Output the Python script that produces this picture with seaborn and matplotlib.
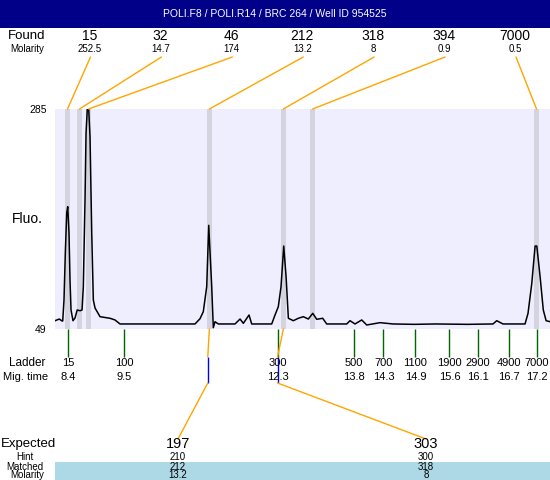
import numpy as np
import pandas as pd
import seaborn as sns
import matplotlib.pyplot as plt
from matplotlib.patches import Rectangle

# ---------------- data ----------------
title = 'POLI.F8 / POLI.R14 / BRC 264 / Well ID 954525'

# electropherogram trace (migration time in min, fluorescence)
trace_time = [8.150, 8.231, 8.282, 8.295, 8.319, 8.344, 8.370, 8.389, 8.413, 8.432,
              8.451, 8.488, 8.526, 8.567, 8.620, 8.658, 8.682, 8.714, 8.733, 8.757,
              8.783, 8.808, 8.840, 8.870, 8.902, 8.996, 9.183, 9.277, 9.371, 10.780,
              10.874, 10.936, 11.000, 11.038, 11.094, 11.124, 11.156, 11.218, 11.532, 11.626,
              11.688, 11.795, 11.845, 12.221, 12.283, 12.345, 12.396, 12.447, 12.491, 12.534,
              12.627, 12.721, 12.815, 12.909, 12.992, 13.067, 13.179, 13.254, 13.630, 13.692,
              13.786, 13.912, 14.006, 14.256, 14.500, 14.900, 15.300, 15.900, 16.378, 16.448,
              16.566, 16.980, 17.036, 17.107, 17.169, 17.201, 17.263, 17.323, 17.376, 17.451]
trace_fluo = [57.9, 59.7, 57.6, 57.6, 80.1, 130.5, 173.4, 180.2, 152.0, 101.6,
              69.4, 57.9, 60.8, 69.4, 68.6, 69.4, 94.4, 187.4, 259.2, 285.0,
              285.0, 255.0, 152.0, 80.1, 71.5, 62.2, 60.5, 58.7, 54.4, 54.4,
              60.0, 67.6, 94.4, 160.2, 94.4, 50.4, 56.8, 54.4, 54.4, 59.7,
              55.1, 64.0, 54.4, 54.4, 64.0, 72.9, 94.4, 138.0, 105.1, 60.5,
              57.9, 60.5, 62.2, 59.7, 65.8, 59.4, 60.5, 54.4, 54.4, 57.9,
              54.4, 58.7, 53.3, 55.8, 54.4, 54.0, 54.4, 54.0, 54.4, 57.9,
              54.4, 54.4, 65.8, 98.0, 138.0, 138.0, 105.1, 69.4, 57.9, 56.8]

# found peaks
found_size = ['15', '32', '46', '212', '318', '394', '7000']
found_molarity = ['252.5', '14.7', '174', '13.2', '8', '0.9', '0.5']
found_time = [8.385, 8.61, 8.78, 11.05, 12.44, 12.99, 17.196]

# ladder
ladder_size = ['15', '100', '300', '500', '700', '1100', '1900', '2900', '4900', '7000']
ladder_time = [8.40, 9.45, 12.33, 13.76, 14.32, 14.92, 15.56, 16.09, 16.67, 17.20]
ladder_label = ['8.4', '9.5', '12.3', '13.8', '14.3', '14.9', '15.6', '16.1', '16.7', '17.2']

# expected fragments
expected_size = ['197', '303']
expected_time = [11.02, 12.33]
hint_size = ['210', '300']
matched_size = ['212', '318']
matched_time = [11.05, 12.44]
matched_molarity = ['13.2', '8']

y_min, y_max = 49, 285

# ---------------- layout ----------------
W, H = 550, 480
left, right, top, bottom = 55, 550, 109, 329
found_x = np.linspace(89.5, 515, len(found_size))
expected_x = [178, 426]

def fx(x):
    return x / W

def fy(y):
    return 1 - y / H

def ay(y):
    # pixel row -> axes fraction of the main plot
    return (bottom - y) / (bottom - top)

plt.rcParams['font.family'] = ['Liberation Sans', 'DejaVu Sans']

fig = plt.figure(figsize=(W / 100, H / 100), dpi=100)
ax = fig.add_axes([fx(left), fy(bottom), (right - left) / W, (bottom - top) / H])
ax.set_facecolor('#eeeeff')

# peak bands
band_w = 0.094
for t in found_time:
    ax.axvspan(t - band_w / 2, t + band_w / 2, color='#d4d4e0', lw=0, zorder=1)

trace = pd.DataFrame({'time': trace_time, 'fluo': trace_fluo})
sns.lineplot(data=trace, x='time', y='fluo', ax=ax, color='black', lw=1.1, zorder=3)

ax.set_xlim(8.150, 17.449)
ax.set_ylim(y_min, y_max)
ax.set_xticks([])
ax.set_yticks([y_min, y_max])
ax.set_yticklabels([str(y_min), str(y_max)], fontsize=7.5)
ax.tick_params(axis='y', length=0, pad=6)
ax.set_xlabel('')
ax.set_ylabel('')
for s in ax.spines.values():
    s.set_visible(False)
ax.text((27 - left) / (right - left), 0.5, 'Fluo.', transform=ax.transAxes,
        ha='center', va='center', fontsize=10)

xt = ax.get_xaxis_transform()
line_kw = dict(arrowstyle='-', lw=1, shrinkA=0, shrinkB=0)

# title bar
fig.add_artist(Rectangle((0, fy(28)), 1, 28 / H, transform=fig.transFigure,
                         color='#000088', lw=0))
fig.text(0.5, fy(14), title, color='white', ha='center', va='center', fontsize=7.5)

# found row
fig.text(fx(26.5), fy(36), 'Found', ha='center', va='center', fontsize=9.5)
fig.text(fx(27), fy(49), 'Molarity', ha='center', va='center', fontsize=7)
for x, s, m, t in zip(found_x, found_size, found_molarity, found_time):
    fig.text(fx(x), fy(36), s, ha='center', va='center', fontsize=10)
    fig.text(fx(x), fy(49), m, ha='center', va='center', fontsize=7)
    ax.annotate('', xy=(t, 1), xycoords=xt, xytext=(x + 1, H - 57),
                textcoords='figure pixels', annotation_clip=False,
                arrowprops=dict(color='orange', **line_kw))

# ladder row
ax.vlines(ladder_time, ay(357), 0, transform=xt, colors='#006400', lw=1, clip_on=False)
fig.text(fx(27), fy(363), 'Ladder', ha='center', va='center', fontsize=8.5)
fig.text(fx(26), fy(377), 'Mig. time', ha='center', va='center', fontsize=8)
for t, s, m in zip(ladder_time, ladder_size, ladder_label):
    ax.text(t, ay(363), s, transform=xt, ha='center', va='center', fontsize=8)
    ax.text(t, ay(377), m, transform=xt, ha='center', va='center', fontsize=8)

# expected connectors
for t, mt, x in zip(expected_time, matched_time, expected_x):
    ax.annotate('', xy=(mt, 0), xycoords=xt, xytext=(t, ay(357)), textcoords=xt,
                annotation_clip=False, arrowprops=dict(color='orange', **line_kw))
    ax.vlines([t], ay(383), ay(357), transform=xt, colors='blue', lw=1, clip_on=False)
    ax.annotate('', xy=(t, ay(383)), xycoords=xt, xytext=(x, H - 439),
                textcoords='figure pixels', annotation_clip=False,
                arrowprops=dict(color='orange', **line_kw))

# expected table
fig.add_artist(Rectangle((fx(left), 0), (right - left) / W, 18 / H, transform=fig.transFigure,
                         color='#add8e6', lw=0, zorder=0))
fig.text(fx(1), fy(444.5), 'Expected', ha='left', va='center', fontsize=9.5)
fig.text(fx(25), fy(456.5), 'Hint', ha='center', va='center', fontsize=7)
fig.text(fx(25), fy(466.5), 'Matched', ha='center', va='center', fontsize=7)
fig.text(fx(27), fy(475.5), 'Molarity', ha='center', va='center', fontsize=7)
for x, e, h, m, mo in zip(expected_x, expected_size, hint_size, matched_size, matched_molarity):
    fig.text(fx(x), fy(444.5), e, ha='center', va='center', fontsize=10.5)
    fig.text(fx(x), fy(456.5), h, ha='center', va='center', fontsize=7)
    fig.text(fx(x), fy(466.5), m, ha='center', va='center', fontsize=7)
    fig.text(fx(x), fy(475.5), mo, ha='center', va='center', fontsize=7)

fig.savefig('out.png', dpi=100)
